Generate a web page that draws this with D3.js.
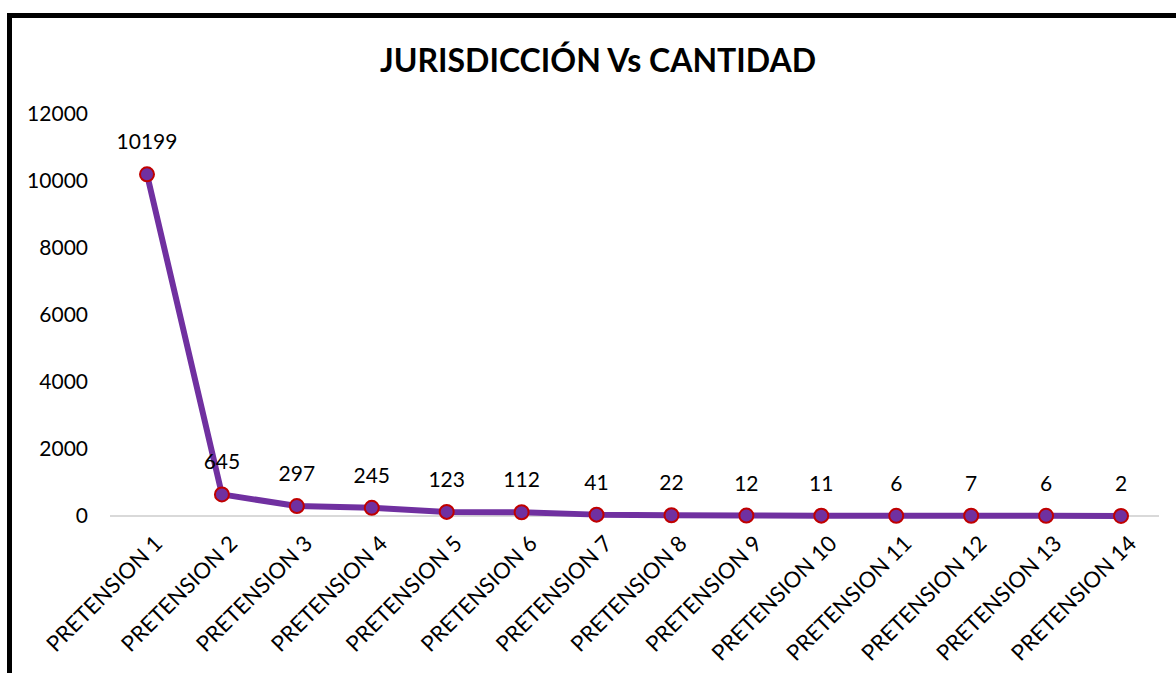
<!DOCTYPE html>
<meta charset="utf-8">
<script src="https://d3js.org/d3.v7.min.js"></script>
<style>
  body { margin: 0; background: #fff; }
  text { font-family: Lato, "Open Sans", sans-serif; fill: #000; }
</style>
<div id="chart"></div>
<script>
// chart data
const categories = ["PRETENSION 1", "PRETENSION 2", "PRETENSION 3", "PRETENSION 4", "PRETENSION 5",
  "PRETENSION 6", "PRETENSION 7", "PRETENSION 8", "PRETENSION 9", "PRETENSION 10",
  "PRETENSION 11", "PRETENSION 12", "PRETENSION 13", "PRETENSION 14"];
const values = [10199, 645, 297, 245, 123, 112, 41, 22, 12, 11, 6, 7, 6, 2];
const yTicks = [0, 2000, 4000, 6000, 8000, 10000, 12000];

const width = 1176, height = 673;
const PURPLE = "#7030a0", RED = "#c00000";

const svg = d3.select("#chart").append("svg")
  .attr("width", width)
  .attr("height", height);

// outer frame (runs off the right and bottom edges)
svg.append("rect")
  .attr("x", 9.5).attr("y", 15.5)
  .attr("width", 1200).attr("height", 700)
  .attr("fill", "#fff")
  .attr("stroke", "#000")
  .attr("stroke-width", 5);

svg.append("text")
  .attr("x", 598).attr("y", 72)
  .attr("text-anchor", "middle")
  .style("font-size", "32px")
  .style("font-weight", "bold")
  .text("JURISDICCIÓN Vs CANTIDAD");

const x = d3.scalePoint()
  .domain(categories)
  .range([147, 1121]);

const y = d3.scaleLinear()
  .domain([0, 12000])
  .range([516, 114]);

// y tick labels
svg.append("g").selectAll("text")
  .data(yTicks)
  .enter().append("text")
  .attr("x", 88)
  .attr("y", d => y(d))
  .attr("dy", "0.35em")
  .attr("text-anchor", "end")
  .style("font-size", "21px")
  .text(d => d);

// baseline
svg.append("line")
  .attr("x1", 110).attr("x2", 1159)
  .attr("y1", y(0)).attr("y2", y(0))
  .attr("stroke", "#d9d9d9")
  .attr("stroke-width", 2);

// x labels, rotated
svg.append("g").selectAll("text")
  .data(categories)
  .enter().append("text")
  .attr("transform", d => "translate(" + (x(d) + 6) + "," + 534 + ")rotate(-45)")
  .attr("text-anchor", "end")
  .attr("dy", "0.7em")
  .style("font-size", "22px")
  .text(d => d);

const line = d3.line()
  .x((d, i) => x(categories[i]))
  .y(d => y(d));

svg.append("path")
  .datum(values)
  .attr("d", line)
  .attr("fill", "none")
  .attr("stroke", PURPLE)
  .attr("stroke-width", 6)
  .attr("stroke-linejoin", "round");

svg.append("g").selectAll("circle")
  .data(values)
  .enter().append("circle")
  .attr("cx", (d, i) => x(categories[i]))
  .attr("cy", d => y(d))
  .attr("r", 7)
  .attr("fill", PURPLE)
  .attr("stroke", RED)
  .attr("stroke-width", 2);

// data labels
svg.append("g").selectAll("text")
  .data(values)
  .enter().append("text")
  .attr("x", (d, i) => x(categories[i]))
  .attr("y", d => y(d) - 25)
  .attr("text-anchor", "middle")
  .style("font-size", "21px")
  .text(d => d);
</script>
